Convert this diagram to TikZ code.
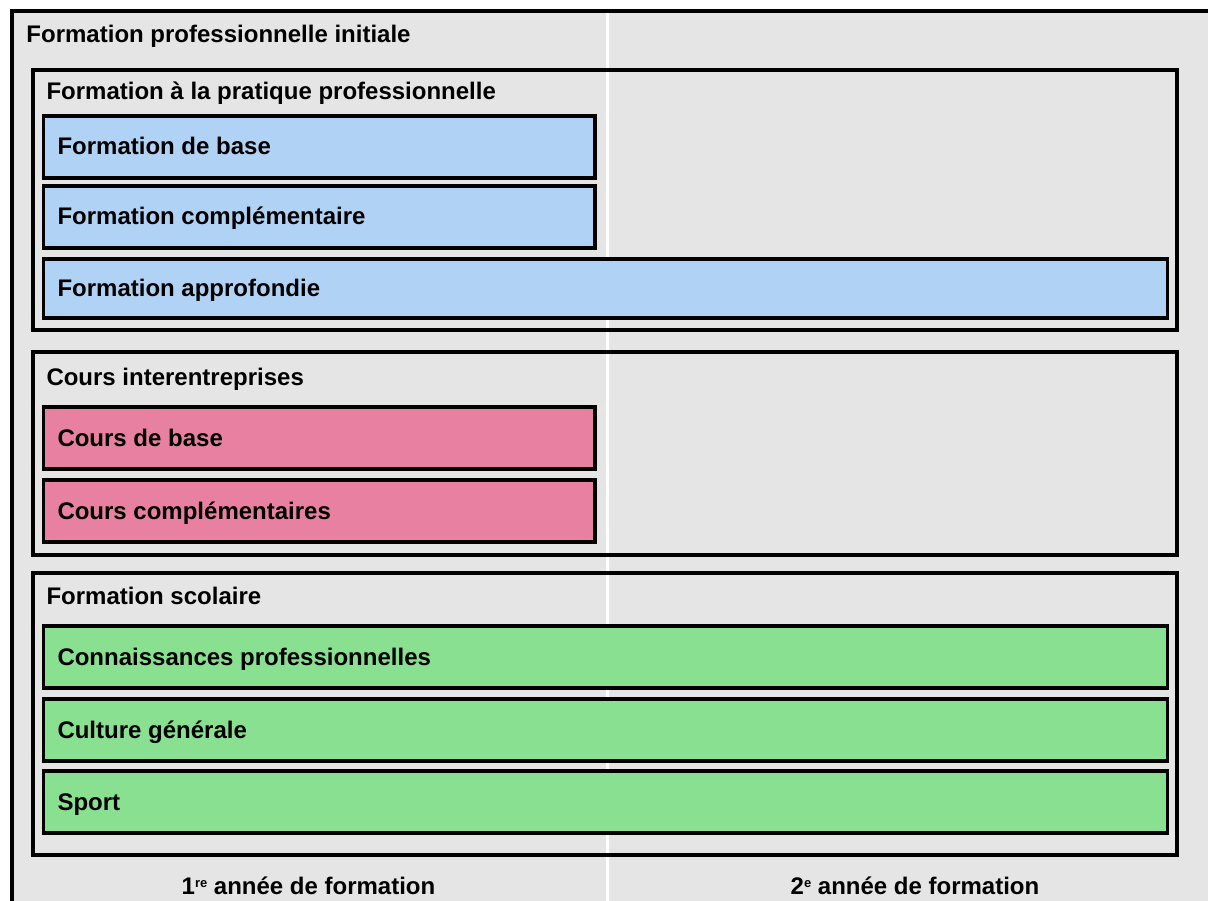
\documentclass[tikz,border=0pt]{standalone}
\usepackage{fontspec}
\setmainfont{Liberation Sans}
\usetikzlibrary{calc}
\definecolor{bgGray}{RGB}{229,229,229}
\definecolor{blueF}{RGB}{176,211,245}
\definecolor{pinkF}{RGB}{232,128,162}
\definecolor{greenF}{RGB}{136,224,144}
\newcommand{\smallsup}[1]{\raisebox{7pt}{\fontsize{13}{13}\selectfont #1}}
\tikzset{
  groupbox/.style={draw=black, line width=3.5pt, inner sep=0pt, outer sep=0pt, anchor=north west},
  barbox/.style={draw=black, line width=3.5pt, inner sep=0pt, outer sep=0pt, anchor=north west, minimum height=62pt},
  txt/.style={anchor=base west, inner sep=0pt, outer sep=0pt},
  ctxt/.style={anchor=base, inner sep=0pt, outer sep=0pt}
}
\begin{document}
\begin{tikzpicture}[x=1pt,y=-1pt, font=\fontsize{24}{28}\selectfont\bfseries]
\useasboundingbox (0,0) rectangle (1208,901);
\begin{scope}
  \clip (0,0) rectangle (1208,901);
  \node[draw=black, fill=bgGray, line width=4pt, inner sep=0pt, outer sep=0pt, anchor=north west,
        minimum width=1210pt, minimum height=904pt] (frame) at (12,11) {};
  \coordinate (divtop) at (607,13);
  \coordinate (divbot) at (607,905);
  \draw[white, line width=3pt] (divtop) -- (divbot);
\end{scope}

\node[txt] (title) at (26.5,43) {Formation professionnelle initiale};

% Group 1
\node[groupbox, minimum width=1144pt, minimum height=260pt] (g1) at (33,70) {};
\node[txt] (h1) at (46.5,100) {Formation à la pratique professionnelle};
\node[barbox, fill=blueF, minimum width=551.5pt] (b1) at (43.5,116) {};
\node[txt] (t1) at ($(b1.west)+(14,8)$) {Formation de base};
\node[barbox, fill=blueF, minimum width=551.5pt] (b2) at (43.5,186) {};
\node[txt] (t2) at ($(b2.west)+(14,8)$) {Formation complémentaire};
\node[barbox, fill=blueF, minimum width=1124pt, minimum height=59pt] (b3) at (43.5,259) {};
\node[txt] (t3) at ($(b3.west)+(14,8)$) {Formation approfondie};

% Group 2
\node[groupbox, minimum width=1144pt, minimum height=203pt] (g2) at (33,352) {};
\node[txt] (h2) at (46.5,385) {Cours interentreprises};
\node[barbox, fill=pinkF, minimum width=551.5pt] (p1) at (43.5,407) {};
\node[txt] (tp1) at ($(p1.west)+(14,8)$) {Cours de base};
\node[barbox, fill=pinkF, minimum width=551.5pt] (p2) at (43.5,480) {};
\node[txt] (tp2) at ($(p2.west)+(14,8)$) {Cours complémentaires};

% Group 3
\node[groupbox, minimum width=1144pt, minimum height=282pt] (g3) at (33,573) {};
\node[txt] (h3) at (46.5,604) {Formation scolaire};
\node[barbox, fill=greenF, minimum width=1124pt] (v1) at (43.5,626) {};
\node[txt] (tv1) at ($(v1.west)+(14,8)$) {Connaissances professionnelles};
\node[barbox, fill=greenF, minimum width=1124pt] (v2) at (43.5,699) {};
\node[txt] (tv2) at ($(v2.west)+(14,8)$) {Culture générale};
\node[barbox, fill=greenF, minimum width=1124pt] (v3) at (43.5,771) {};
\node[txt] (tv3) at ($(v3.west)+(14,8)$) {Sport};

% Year labels
\node[ctxt] (y1) at (308.5,894) {1\smallsup{re} année de formation};
\node[ctxt] (y2) at (915,894) {2\smallsup{e} année de formation};
\end{tikzpicture}
\end{document}
